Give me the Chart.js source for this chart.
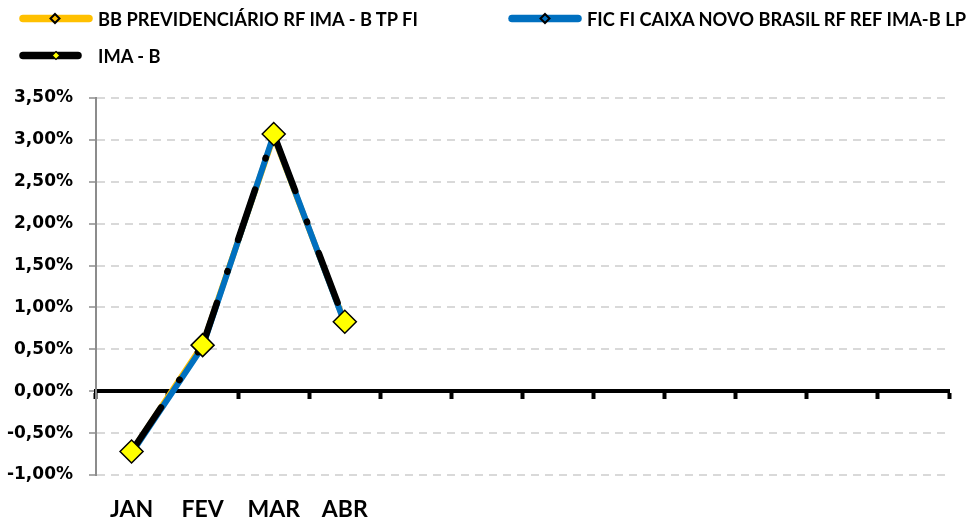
<!DOCTYPE html>
<html><head><meta charset="utf-8">
<script src="https://cdn.jsdelivr.net/npm/chart.js@4"></script>
<style>
html,body{margin:0;padding:0;background:#fff;}
#wrap{position:relative;width:970px;height:522px;overflow:hidden;}
#c{position:absolute;left:0;top:0;}
#sw{position:absolute;left:0;top:0;pointer-events:none;}
.lg{position:absolute;font-family:Lato,sans-serif;font-weight:700;font-size:18.3px;color:#000;white-space:nowrap;line-height:20px;}
</style></head>
<body><div id="wrap">
<canvas id="c" width="970" height="522"></canvas>
<svg id="sw" width="970" height="522"></svg>
<div class="lg" id="lg0" style="left:98px;top:8.5px"></div>
<div class="lg" id="lg1" style="left:587px;top:8.5px"></div>
<div class="lg" id="lg2" style="left:98px;top:45.5px"></div>
</div>
<script>
// ---- data ----
const categories = ['JAN','FEV','MAR','ABR','','','','','','','',''];
const seriesNames = ['BB PREVIDENCIÁRIO RF IMA - B TP FI','FIC FI CAIXA NOVO BRASIL RF REF IMA-B LP','IMA - B'];
const bbValues   = [-0.72, 0.555, 3.04, 0.82];
const ficValues  = [-0.74, 0.53, 3.06, 0.81];
const imabValues = [-0.72, 0.55, 3.07, 0.83];
const yMin = -1, yMax = 3.5, yStep = 0.5;

const GOLD = '#FFC000', BLUE = '#0070C0', YELLOW = '#FFFF00';
const FONT = 'Lato';
const NUMFONT = 'DejaVu Sans';

// legend
document.getElementById('lg0').textContent = seriesNames[0];
document.getElementById('lg1').textContent = seriesNames[1];
document.getElementById('lg2').textContent = seriesNames[2];
(function(){
  const svg = document.getElementById('sw');
  function sw(x1,x2,y,color,dx,fill,half,bw){
    return `<line x1="${x1}" y1="${y}" x2="${x2}" y2="${y}" stroke="${color}" stroke-width="7.5" stroke-linecap="round"/>`+
      `<polygon points="${dx},${y-half} ${dx+half},${y} ${dx},${y+half} ${dx-half},${y}" fill="${fill}" stroke="#000" stroke-width="${bw}"/>`;
  }
  svg.innerHTML = sw(23,89,18.5,GOLD,55,'none',4.5,2) + sw(512,578,18.5,BLUE,545,'none',4.5,2) + sw(23,78,55.5,'#000',56,YELLOW,4,1.2);
})();

const fmt = v => v.toFixed(2).replace('.', ',') + '%';

new Chart(document.getElementById('c'), {
  type: 'line',
  data: {
    labels: categories,
    datasets: [
      { label: seriesNames[2], data: imabValues, borderColor:'#000', borderWidth:6.5,
        borderDash:[53,33,0.5,33], borderCapStyle:'round', borderJoinStyle:'round',
        pointStyle:'rectRot', pointRadius:11.5, pointHoverRadius:11.5,
        pointBackgroundColor:YELLOW, pointBorderColor:'#000', pointBorderWidth:1.5, order:1, tension:0 },
      { label: seriesNames[1], data: ficValues, borderColor:BLUE, borderWidth:6, borderJoinStyle:'round',
        pointStyle:'rectRot', pointRadius:4.5, pointBackgroundColor:'rgba(0,0,0,0)', pointBorderColor:'#000', pointBorderWidth:2, order:2, tension:0 },
      { label: seriesNames[0], data: bbValues, borderColor:GOLD, borderWidth:6, borderJoinStyle:'round',
        pointStyle:'rectRot', pointRadius:4.5, pointBackgroundColor:'rgba(0,0,0,0)', pointBorderColor:'#000', pointBorderWidth:2, order:3, tension:0 }
    ]
  },
  options: {
    responsive:false, animation:false, devicePixelRatio:1,
    layout:{ padding:{ left:0, right:21, top:98, bottom:0 } },
    plugins:{ legend:{display:false}, tooltip:{enabled:false} },
    scales:{
      x:{
        type:'category', position:'bottom', offset:true,
        grid:{ display:false, drawTicks:false },
        border:{ display:false },
        ticks:{ autoSkip:false, maxRotation:0, color:'#000', padding:21,
          font:{ family:FONT, weight:'bold', size:23 } },
        afterFit: s => { s.height = 47; }
      },
      x0:{
        type:'category', axis:'x', position:{ y:0 }, offset:true,
        grid:{ offset:true, drawOnChartArea:false, drawTicks:true, tickLength:6, tickWidth:4, tickColor:'#000', color:'#000' },
        border:{ display:true, color:'#000', width:4 },
        ticks:{ display:false }
      },
      y:{
        min:yMin, max:yMax,
        ticks:{ stepSize:yStep, callback: v => fmt(v), color:'#000', padding:16,
          font:{ family:NUMFONT, weight:'bold', size:17 } },
        grid:{ color:'#d9d9d9', lineWidth:2, tickColor:'#8c8c8c', tickLength:7, tickWidth:1.5 },
        border:{ display:true, color:'#8c8c8c', width:2, dash:[8,6] },
        afterFit: s => { s.width = 96; }
      }
    }
  }
});
</script>
</body></html>
